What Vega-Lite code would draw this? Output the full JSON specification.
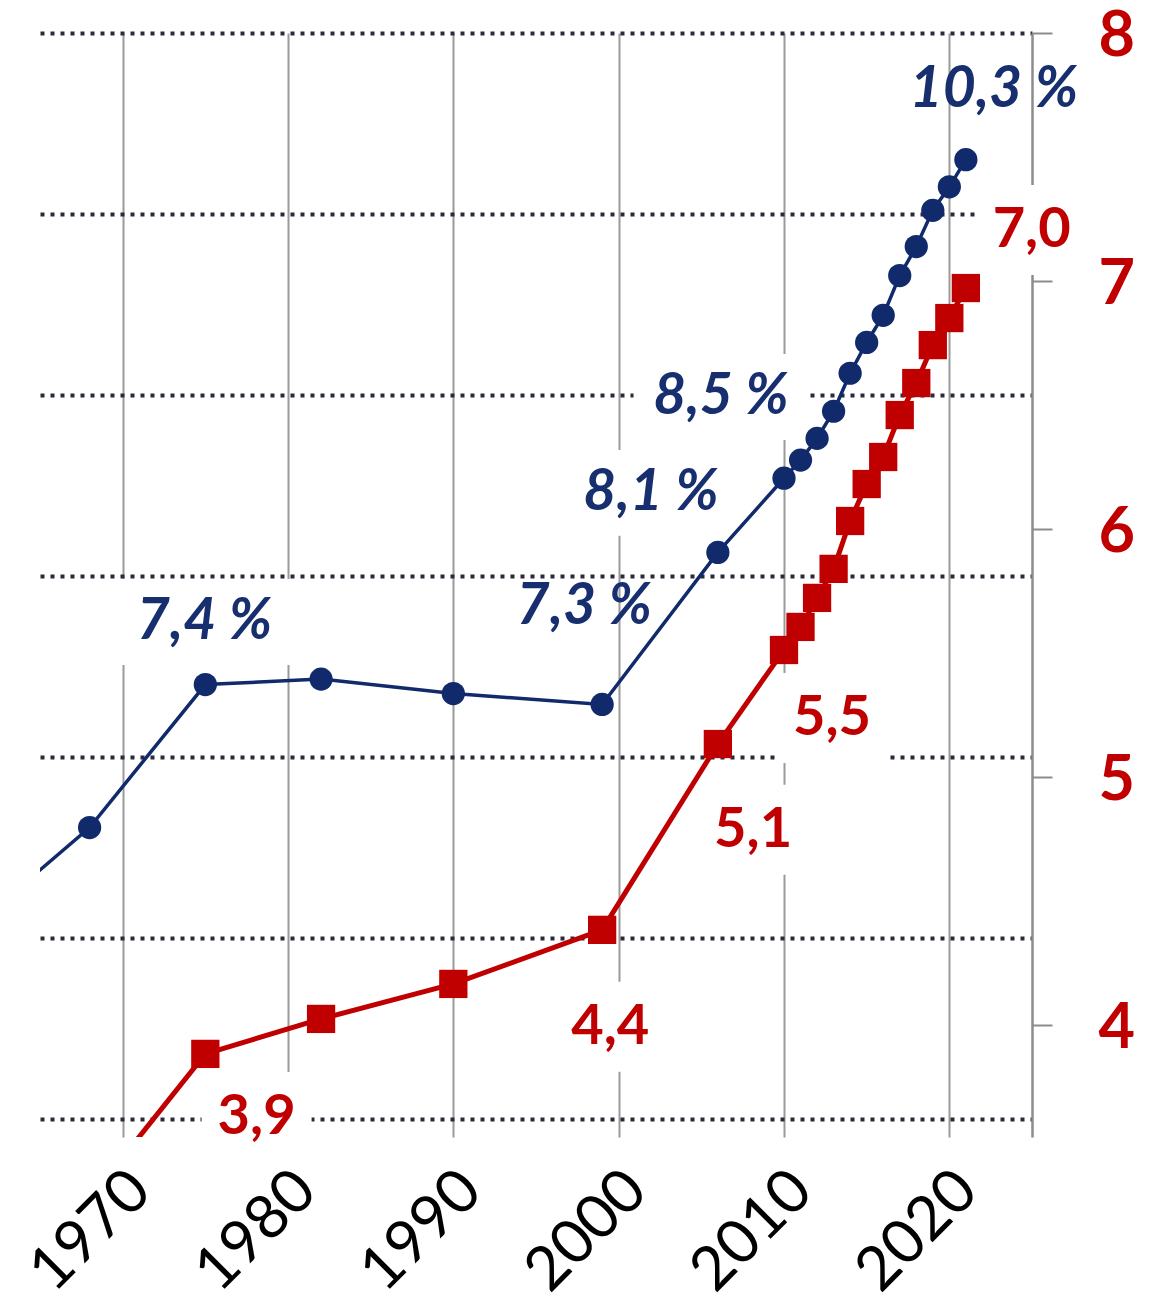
{
  "$schema": "https://vega.github.io/schema/vega-lite/v6.json",
  "width": 992,
  "height": 1104,
  "autosize": {"type": "none"},
  "padding": {"left": 40, "top": 33, "right": 120, "bottom": 175},
  "background": "white",
  "config": {"view": {"stroke": null}, "font": "Lato"},
  "datasets": {
    "series": [
      {"year": 1962, "share": 6.14, "pop": 2.86},
      {"year": 1968, "share": 6.61, "pop": 3.30},
      {"year": 1975, "share": 7.40, "pop": 3.885},
      {"year": 1982, "share": 7.43, "pop": 4.026},
      {"year": 1990, "share": 7.35, "pop": 4.167},
      {"year": 1999, "share": 7.29, "pop": 4.385},
      {"year": 2006, "share": 8.13, "pop": 5.134},
      {"year": 2010, "share": 8.54, "pop": 5.513},
      {"year": 2011, "share": 8.64, "pop": 5.606},
      {"year": 2012, "share": 8.76, "pop": 5.723},
      {"year": 2013, "share": 8.91, "pop": 5.840},
      {"year": 2014, "share": 9.12, "pop": 6.033},
      {"year": 2015, "share": 9.29, "pop": 6.182},
      {"year": 2016, "share": 9.44, "pop": 6.291},
      {"year": 2017, "share": 9.66, "pop": 6.460},
      {"year": 2018, "share": 9.82, "pop": 6.589},
      {"year": 2019, "share": 10.02, "pop": 6.742},
      {"year": 2020, "share": 10.15, "pop": 6.851},
      {"year": 2021, "share": 10.30, "pop": 6.972}
    ],
    "blueLabels": [
      {"year": 1974.95, "share": 7.746, "text": "7,4 %"},
      {"year": 1997.92, "share": 7.829, "text": "7,3 %"},
      {"year": 2001.96, "share": 8.459, "text": "8,1 %"},
      {"year": 2006.19, "share": 8.989, "text": "8,5 %"},
      {"year": 2022.69, "share": 10.685, "text": "10,3 %"}
    ],
    "redLabels": [
      {"year": 1978.10, "pop": 3.631, "text": "3,9"},
      {"year": 1999.49, "pop": 3.994, "text": "4,4"},
      {"year": 2008.13, "pop": 4.788, "text": "5,1"},
      {"year": 2012.90, "pop": 5.239, "text": "5,5"},
      {"year": 2024.98, "pop": 7.206, "text": "7,0"}
    ]
  },
  "encoding": {
    "x": {
      "field": "year",
      "type": "quantitative",
      "scale": {"domain": [1965, 2025], "nice": false, "zero": false},
      "axis": {
        "orient": "bottom",
        "values": [1970, 1980, 1990, 2000, 2010, 2020],
        "format": "d",
        "title": null,
        "grid": true,
        "gridColor": "#9a9a9a",
        "gridWidth": 2,
        "ticks": false,
        "domain": false,
        "labelAngle": -45,
        "labelAlign": "right",
        "labelBaseline": "middle",
        "labelFont": "Lato",
        "labelFontSize": 61,
        "labelColor": "#000000",
        "labelPadding": 44,
        "labelOffset": 18,
        "labelOverlap": false,
        "labelFlush": false
      }
    }
  },
  "layer": [
    {
      "encoding": {
        "y": {
          "field": "share",
          "type": "quantitative",
          "scale": {"domain": [4.9, 11], "nice": false, "zero": false},
          "axis": {
            "orient": "left",
            "values": [5, 6, 7, 8, 9, 10, 11],
            "title": null,
            "labels": false,
            "ticks": false,
            "domain": false,
            "grid": true,
            "gridColor": "#2a2a3a",
            "gridDash": [4, 6],
            "gridWidth": 4
          }
        }
      },
      "layer": [
        {
          "data": {"name": "blueLabels"},
          "transform": [{"filter": "datum.text != '7,3 %' && datum.text != '10,3 %'"}],
          "mark": {"type": "point", "shape": "M-1,-0.491H1V0.491H-1Z", "filled": true, "opacity": 1, "color": "white", "size": 30625}
        },
        {
          "data": {"name": "series"},
          "mark": {"type": "line", "color": "#102a6b", "strokeWidth": 3.5, "clip": true}
        },
        {
          "data": {"name": "series"},
          "mark": {"type": "point", "shape": "circle", "filled": true, "opacity": 1, "color": "#102a6b", "size": 540, "clip": true}
        },
        {
          "data": {"name": "blueLabels"},
          "mark": {"type": "text", "font": "Lato", "fontSize": 57, "fontWeight": "bold", "fontStyle": "italic", "color": "#172f6e", "align": "center", "baseline": "middle"},
          "encoding": {"text": {"field": "text"}}
        }
      ]
    },
    {
      "encoding": {
        "y": {
          "field": "pop",
          "type": "quantitative",
          "scale": {"domain": [3.55, 8.0], "nice": false, "zero": false},
          "axis": {
            "orient": "right",
            "values": [4, 5, 6, 7, 8],
            "title": null,
            "grid": false,
            "domain": true,
            "domainColor": "#8c8c8c",
            "domainWidth": 2.5,
            "ticks": true,
            "tickColor": "#8c8c8c",
            "tickWidth": 2,
            "tickSize": 20,
            "labelPadding": 46,
            "labelOffset": 3,
            "labelFont": "Lato",
            "labelFontSize": 63,
            "labelFontWeight": "bold",
            "labelColor": "#c00000",
            "labelAlign": "left",
            "labelBaseline": "middle"
          }
        }
      },
      "layer": [
        {
          "data": {"name": "redLabels"},
          "mark": {"type": "point", "shape": "M-1,-0.818H1V0.818H-1Z", "filled": true, "opacity": 1, "color": "white", "size": 12100}
        },
        {
          "data": {"name": "series"},
          "mark": {"type": "line", "color": "#c00000", "strokeWidth": 5, "clip": true}
        },
        {
          "data": {"name": "series"},
          "mark": {"type": "point", "shape": "square", "filled": true, "opacity": 1, "color": "#c00000", "size": 800, "clip": true}
        },
        {
          "data": {"name": "redLabels"},
          "mark": {"type": "text", "font": "Lato", "fontSize": 56, "fontWeight": "bold", "color": "#c00000", "align": "center", "baseline": "middle"},
          "encoding": {"text": {"field": "text"}}
        }
      ]
    }
  ],
  "resolve": {"scale": {"y": "independent"}, "axis": {"y": "independent"}}
}
